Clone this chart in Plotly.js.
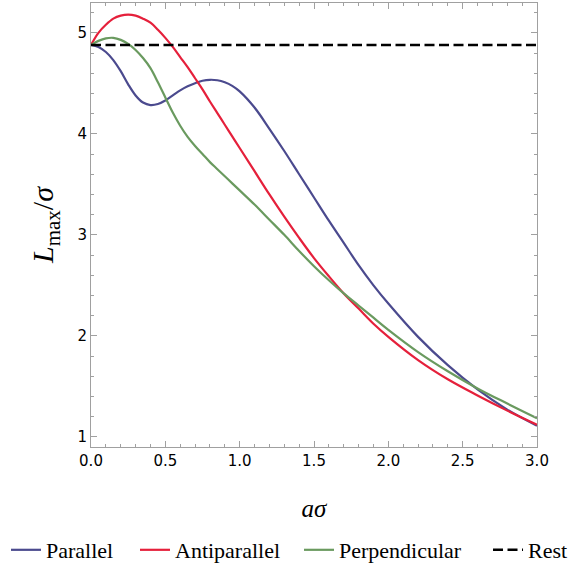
<!DOCTYPE html>
<html>
<head>
<meta charset="utf-8">
<script src="https://cdn.plot.ly/plotly-3.0.1.min.js"></script>
<style>
  html, body { margin: 0; padding: 0; background: #fff; }
  #plotArea { width: 581px; height: 579px; }
</style>
</head>
<body>
<div id="plotArea"></div>
<script>
var aSigma = [0, 0.05, 0.1, 0.15, 0.2, 0.25, 0.3, 0.35, 0.4, 0.45, 0.5, 0.55, 0.6, 0.65, 0.7, 0.75, 0.8, 0.85, 0.9, 0.95, 1.0,
  1.1, 1.2, 1.3, 1.4, 1.5, 1.6, 1.7, 1.8, 1.9, 2.0, 2.2, 2.4, 2.6, 2.8, 3.0];

var parallel = [4.88, 4.86, 4.81, 4.73, 4.62, 4.49, 4.38, 4.31, 4.285, 4.295, 4.33, 4.38, 4.43, 4.47, 4.50, 4.525, 4.535, 4.53, 4.51, 4.475, 4.42,
  4.26, 4.05, 3.83, 3.60, 3.37, 3.14, 2.92, 2.70, 2.50, 2.32, 1.99, 1.71, 1.47, 1.27, 1.11];

var antiparallel = [4.88, 5.00, 5.08, 5.14, 5.17, 5.18, 5.17, 5.14, 5.10, 5.03, 4.95, 4.86, 4.76, 4.66, 4.55, 4.44, 4.32, 4.205, 4.09, 3.975, 3.86,
  3.63, 3.40, 3.18, 2.97, 2.77, 2.59, 2.42, 2.27, 2.12, 1.99, 1.76, 1.57, 1.41, 1.26, 1.12];

var perpendicular = [4.88, 4.92, 4.945, 4.95, 4.93, 4.89, 4.83, 4.75, 4.65, 4.51, 4.36, 4.21, 4.08, 3.97, 3.88, 3.80, 3.72, 3.65, 3.58, 3.51, 3.44,
  3.30, 3.15, 3.00, 2.84, 2.69, 2.55, 2.42, 2.30, 2.18, 2.06, 1.84, 1.65, 1.48, 1.33, 1.185];

var restX = [0, 3];
var restY = [4.88, 4.88];

var frameColor = "#a0a0a0";
var legendFont = {family: "Liberation Serif, serif", size: 22, color: "#000"};

var traces = [
  {x: aSigma, y: parallel, name: "Parallel", mode: "lines", legend: "legend", legendwidth: 84,
   line: {color: "#4b4a8e", width: 2.2, shape: "spline"}},
  {x: aSigma, y: antiparallel, name: "Antiparallel", mode: "lines", legend: "legend", legendwidth: 110,
   line: {color: "#e5203b", width: 2.2, shape: "spline"}},
  {x: aSigma, y: perpendicular, name: "Perpendicular", mode: "lines", legend: "legend2", legendwidth: 144,
   line: {color: "#6a9a5f", width: 2.2, shape: "spline"}},
  {x: restX, y: restY, name: "Rest", mode: "lines", legend: "legend2", legendwidth: 40,
   line: {color: "#000000", width: 2.5, dash: "10px,4.5px"}}
];

var layout = {
  width: 581,
  height: 579,
  margin: {l: 91, r: 44, t: 3, b: 132},
  paper_bgcolor: "#ffffff",
  plot_bgcolor: "#ffffff",
  showlegend: true,
  legend: {
    orientation: "h",
    x: -0.1906, xanchor: "left",
    y: -0.232, yanchor: "middle",
    font: legendFont,
    itemwidth: 30
  },
  legend2: {
    orientation: "h",
    x: 0.4664, xanchor: "left",
    y: -0.232, yanchor: "middle",
    font: legendFont,
    itemwidth: 30
  },
  xaxis: {
    range: [0, 3],
    dtick: 0.5,
    tickformat: ".1f",
    ticks: "inside",
    ticklen: 6,
    tickcolor: frameColor,
    showline: true,
    linecolor: frameColor,
    linewidth: 1,
    mirror: "ticks",
    showgrid: false,
    zeroline: false,
    minor: {dtick: 0.1, ticks: "inside", ticklen: 3, tickcolor: frameColor},
    tickfont: {family: "DejaVu Sans, sans-serif", size: 15, color: "#000"},
    title: {text: "<i>a</i><i>σ</i>", standoff: 30,
            font: {family: "Liberation Serif, serif", size: 25, color: "#000"}}
  },
  yaxis: {
    range: [0.9, 5.295],
    dtick: 1,
    ticks: "inside",
    ticklen: 6,
    tickcolor: frameColor,
    showline: true,
    linecolor: frameColor,
    linewidth: 1,
    mirror: "ticks",
    showgrid: false,
    zeroline: false,
    minor: {dtick: 0.2, ticks: "inside", ticklen: 3, tickcolor: frameColor},
    tickfont: {family: "DejaVu Sans, sans-serif", size: 15, color: "#000"},
    title: {text: "<i>L</i><sub>max</sub>/<i>σ</i>", standoff: 14,
            font: {family: "Liberation Serif, serif", size: 30, color: "#000"}}
  }
};

Plotly.newPlot("plotArea", traces, layout, {displayModeBar: false});
</script>
</body>
</html>
